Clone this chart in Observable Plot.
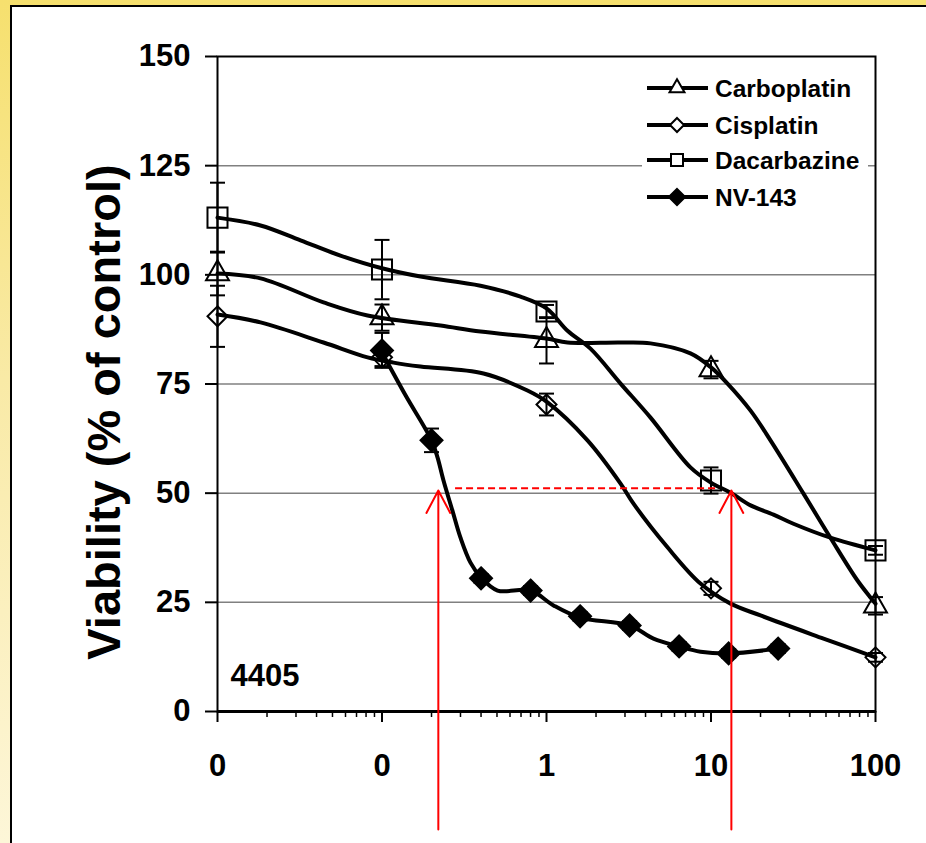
<!DOCTYPE html>
<html><head><meta charset="utf-8">
<script src="https://cdn.jsdelivr.net/npm/d3@7"></script>
<script src="https://cdn.jsdelivr.net/npm/@observablehq/plot@0.6"></script>
<style>
html,body{margin:0;padding:0;background:#fff;}
#wrap{position:relative;width:926px;height:843px;overflow:hidden;background:linear-gradient(to bottom,#F6E06E 0%,#F9EAA6 45%,#FDF6D8 100%);font-family:"Liberation Sans",Arial,sans-serif;}
#panel{position:absolute;left:10px;top:5px;width:1000px;height:1000px;background:#fff;border:2px solid #000;}
#chart{position:absolute;left:0;top:0;}
#legend{position:absolute;left:642px;top:68px;width:226px;height:148px;background:#fff;}
</style></head><body>
<div id="wrap"><div id="panel"></div><div id="chart"></div><div id="legend"></div></div>
<script>
// ---- data ----
const seriesNames = ["Carboplatin", "Cisplatin", "Dacarbazine", "NV-143"];
const decadeConc = [0.01, 0.1, 1, 10, 100];
const carboMean = [100.3, 90.2, 85.0, 78.3, 24.2];
const carboErr  = [5, 3, 5.3, 2, 2];
const cisMean   = [90.5, 81.1, 70.3, 28.2, 12.4];
const cisErr    = [7, 2, 2.5, 1.5, 1];
const dacarbMean = [113.1, 101.2, 91.6, 52.9, 36.9];
const dacarbErr  = [8, 6.8, 1.5, 3, 1];
const nvConc = [0.1, 0.2, 0.4, 0.8, 1.6, 3.2, 6.4, 12.8, 25.6];
const nvMean = [82.7, 62.1, 30.5, 27.7, 21.8, 19.7, 14.9, 13.3, 14.4];
const nvErr  = [4, 2.7, 1, 1, 1, 1, 1, 1, 1];

// fitted curves
const carboCurveConc = [0.01, 0.01826, 0.0441, 0.0817, 0.227, 0.397, 1, 1.342, 2.82, 4.29, 7.5, 10, 12.6, 17.4, 22.99, 36.5, 53.2, 77.7, 100];
const carboCurveVal  = [100.3, 99.2, 93.7, 90.7, 88.4, 87.0, 85.4, 84.5, 84.5, 84.3, 82.0, 78.8, 75.1, 68.9, 62.1, 49.9, 39.8, 30.0, 24.7];
const cisCurveConc = [0.01, 0.01826, 0.0441, 0.0817, 0.1175, 0.1714, 0.414, 0.766, 1.014, 1.775, 2.82, 3.38, 5.44, 8.63, 13.15, 20.0, 48.3, 100];
const cisCurveVal  = [90.9, 89.1, 84.5, 81.1, 79.9, 79.0, 77.4, 73.5, 70.8, 62.1, 52.2, 47.6, 37.6, 29.3, 24.7, 22.0, 16.7, 12.4];
const dacarbCurveConc = [0.01, 0.01826, 0.03197, 0.0559, 0.1, 0.1714, 0.397, 0.695, 1, 1.342, 1.85, 2.82, 4.29, 7.5, 10, 13.15, 17.4, 23.99, 31.7, 53.2, 100];
const dacarbCurveVal  = [113.1, 111.3, 107.9, 104.4, 101.5, 99.6, 97.5, 95.0, 92.3, 87.2, 83.1, 75.1, 67.3, 55.9, 52.4, 50.1, 47.2, 45.1, 43.0, 39.8, 36.9];
const nvCurveConc = [0.1, 0.139, 0.2, 0.2175, 0.2365, 0.268, 0.3, 0.345, 0.4, 0.504, 0.8, 1.103, 1.6, 3.2, 4.47, 6.4, 8.63, 12.8, 25.6];
const nvCurveVal  = [82.2, 72.4, 62.1, 58.2, 52.9, 46.0, 39.8, 34.1, 30.7, 27.7, 27.7, 24.3, 21.5, 19.7, 16.7, 14.9, 13.7, 13.3, 14.4];

const yTicks = [0, 25, 50, 75, 100, 125, 150];
const gridValues = [25, 50, 75, 100, 125];
const xTicks = [0.01, 0.1, 1, 10, 100];
const xTickLabels = ["0", "0", "1", "10", "100"];
const xMinorTicks = [0.02,0.03,0.04,0.05,0.06,0.07,0.08,0.09,0.2,0.3,0.4,0.5,0.6,0.7,0.8,0.9,2,3,4,5,6,7,8,9,20,30,40,50,60,70,80,90];
const yLabel = "Viability (% of control)";
const cellLine = "4405";

// IC50 annotation
const ic50Conc = [0.22, 13.3];
const arrowTip = 50.6;
const arrowBase = -27;
const dashY = 51.1;
const dashFrom = 0.28;
const dashTo = 11.0;

// ---- build tables ----
const markers = [];
function addMarkers(name, conc, mean, err) { conc.forEach((c, i) => markers.push({drug: name, conc: c, v: mean[i], e: err[i]})); }
addMarkers("Carboplatin", decadeConc, carboMean, carboErr);
addMarkers("Cisplatin", decadeConc, cisMean, cisErr);
addMarkers("Dacarbazine", decadeConc, dacarbMean, dacarbErr);
addMarkers("NV-143", nvConc, nvMean, nvErr);

const curves = [];
function addCurve(name, conc, vals) { conc.forEach((c, i) => curves.push({drug: name, conc: c, v: vals[i]})); }
addCurve("Carboplatin", carboCurveConc, carboCurveVal);
addCurve("Cisplatin", cisCurveConc, cisCurveVal);
addCurve("Dacarbazine", dacarbCurveConc, dacarbCurveVal);
addCurve("NV-143", nvCurveConc, nvCurveVal);

const capSymbol = {draw(ctx, size) { const r = Math.sqrt(size / Math.PI); ctx.moveTo(-r, 0); ctx.lineTo(r, 0); }};
const symbolOf = {"Carboplatin": "triangle", "Cisplatin": "diamond2", "Dacarbazine": "square", "NV-143": "diamond2"};
const rOf = {"Carboplatin": 8.5, "Cisplatin": 9, "Dacarbazine": 11.3, "NV-143": 9.9};
const fillOf = {"Carboplatin": "none", "Cisplatin": "none", "Dacarbazine": "none", "NV-143": "black"};

const chart = Plot.plot({
  width: 926, height: 843,
  marginLeft: 217, marginRight: 51, marginTop: 56, marginBottom: 132,
  style: {background: "transparent", overflow: "visible", fontFamily: '"Liberation Sans", Arial, sans-serif', fontWeight: "bold", color: "black"},
  x: {type: "log", domain: [0.01, 100]},
  y: {domain: [0, 150]},
  marks: [
    Plot.ruleY(gridValues, {stroke: "#808080", strokeWidth: 1.5}),
    Plot.frame({stroke: "black", strokeWidth: 2}),
    Plot.ruleY([0], {stroke: "black", strokeWidth: 3}),
    Plot.axisY({ticks: yTicks, tickSize: 12, tickPadding: 15, fontSize: 31, strokeWidth: 2, label: null}),
    Plot.axisX({ticks: xMinorTicks, tickSize: 6, tickFormat: () => "", strokeWidth: 1.5, label: null}),
    Plot.axisX({ticks: xTicks, tickSize: 11, tickPadding: 31, fontSize: 31, strokeWidth: 2, tickFormat: d => xTickLabels[xTicks.indexOf(d)], label: null}),
    Plot.ruleX(markers, {x: "conc", y1: d => d.v - d.e, y2: d => d.v + d.e, stroke: "black", strokeWidth: 2}),
    Plot.dot(markers, {x: "conc", y: d => d.v + d.e, symbol: capSymbol, r: 7.5, stroke: "black", strokeWidth: 2, fill: "none"}),
    Plot.dot(markers, {x: "conc", y: d => d.v - d.e, symbol: capSymbol, r: 7.5, stroke: "black", strokeWidth: 2, fill: "none"}),
    Plot.line(curves, {x: "conc", y: "v", z: "drug", curve: "catmull-rom", stroke: "black", strokeWidth: 4}),
    ...seriesNames.map(name => Plot.dot(markers.filter(d => d.drug === name), {x: "conc", y: "v", symbol: symbolOf[name], r: rOf[name], stroke: "black", strokeWidth: 2, fill: fillOf[name]})),
    Plot.ruleY([dashY], {x1: () => dashFrom, x2: () => dashTo, stroke: "red", strokeWidth: 2, strokeDasharray: "7,4"}),
    Plot.arrow(ic50Conc, {x1: d => d, x2: d => d, y1: () => arrowBase, y2: () => arrowTip, stroke: "red", strokeWidth: 2, headLength: 19, headAngle: 56}),
    Plot.text([yLabel], {text: d => d, frameAnchor: "left", textAnchor: "middle", lineAnchor: "middle", rotate: -90, dx: -113, dy: 28, fontSize: 47}),
    Plot.text([cellLine], {text: d => d, frameAnchor: "bottom-left", textAnchor: "start", lineAnchor: "middle", dx: 13, dy: -35, fontSize: 31})
  ]
});
document.getElementById("chart").appendChild(chart);

// ---- legend ----
const legendSymbols = {"Carboplatin": [d3.symbolTriangle, 97, "none"], "Cisplatin": [d3.symbolDiamond2, 125, "none"], "Dacarbazine": [d3.symbolSquare, 144, "none"], "NV-143": [d3.symbolDiamond2, 170, "black"]};
const legendRowY = [20, 57, 92, 129];
const lg = d3.select("#legend").append("svg").attr("width", 226).attr("height", 148)
  .style("font-family", '"Liberation Sans", Arial, sans-serif').style("font-weight", "bold");
seriesNames.forEach((name, i) => {
  const g = lg.append("g").attr("transform", `translate(0,${legendRowY[i]})`);
  g.append("line").attr("x1", 5).attr("x2", 66).attr("y1", 0).attr("y2", 0).attr("stroke", "black").attr("stroke-width", 4);
  const [sym, size, fill] = legendSymbols[name];
  g.append("path").attr("d", d3.symbol(sym, size)()).attr("transform", "translate(35,0)")
    .attr("fill", fill === "none" ? "white" : fill).attr("stroke", "black").attr("stroke-width", 2);
  g.append("text").attr("x", 73).attr("y", 0).attr("dy", "0.35em").attr("font-size", 24.5).text(name);
});
</script></body></html>
